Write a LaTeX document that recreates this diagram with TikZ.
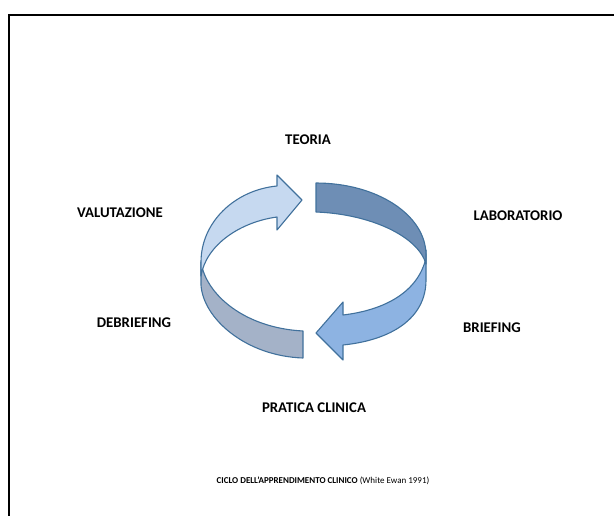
\documentclass[tikz,border=0pt]{standalone}
\usepackage{fontspec}
\setmainfont{Carlito}
\definecolor{lightband}{RGB}{198,217,240}
\definecolor{darkband}{RGB}{110,142,181}
\definecolor{midband}{RGB}{141,179,226}
\definecolor{grayband}{RGB}{164,178,200}
\definecolor{bandline}{RGB}{65,113,156}
\tikzset{
  band/.style={draw=bandline, line width=1.1pt, line join=round},
  lbl/.style={font=\fontsize{14.8}{17}\selectfont\bfseries, inner sep=0pt}
}
\begin{document}
\begin{tikzpicture}[x=1pt, y=-1pt]
    \useasboundingbox (0,0) rectangle (614,515);
    \clip (0,0) rectangle (614,515);
    \draw[line width=2.5pt](9,530)--(9,15)--(630,15);
    % ring of four arrows
    \draw[band, fill=grayband](201,262) .. controls (206,295) and (245,328) .. (303,331)
        -- (303,358) .. controls (245,356) and (203,318) .. (201,285) -- cycle;
    \draw[band, fill=lightband](201,276) -- (201,262) .. controls (201,222) and (235,190) .. (277,186)
        -- (277,175) -- (302,200) -- (277,230) -- (277,217) .. controls (240,222) and (206,245) .. (201,276) -- cycle;
    \draw[band, fill=midband](426,250) -- (426,280) .. controls (426,318) and (392,340) .. (343,345)
        -- (343,360) -- (316,333) -- (343,302) -- (343,315) .. controls (385,310) and (418,292) .. (426,258) -- cycle;
    \draw[band, fill=darkband](316,183) .. controls (377,183) and (426,215) .. (426,255)
        -- (426,264) .. controls (418,236) and (370,214) .. (316,212) -- cycle;
    % labels
    \node[lbl] (teoria) at (308,140) {TEORIA};
    \node[lbl] (lab) at (518,216) {LABORATORIO};
    \node[lbl] (brief) at (492,328) {BRIEFING};
    \node[lbl] (pratica) at (314,408) {PRATICA CLINICA};
    \node[lbl] (debrief) at (134,323) {DEBRIEFING};
    \node[lbl] (valut) at (120,213) {VALUTAZIONE};
    \node[inner sep=0pt, font=\fontsize{9}{10}\selectfont] (ciclo) at (323,481)
        {\textbf{CICLO DELL’APPRENDIMENTO CLINICO} (White Ewan 1991)};
\end{tikzpicture}
\end{document}
